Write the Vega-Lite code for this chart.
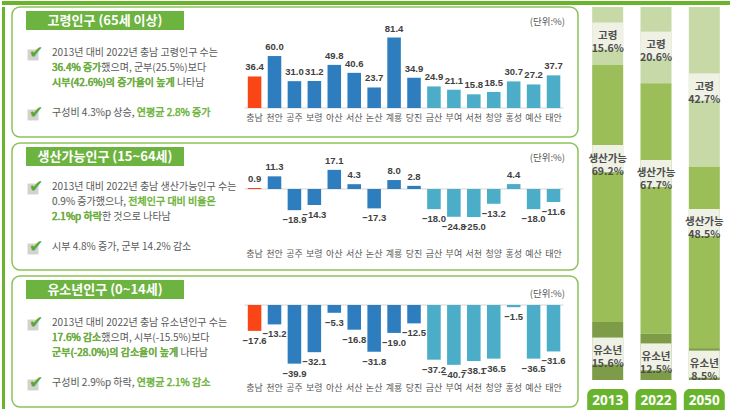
{
  "$schema": "https://vega.github.io/schema/vega-lite/v6.json",
  "padding": 0,
  "background": "#ffffff",
  "config": {"view": {"stroke": null}, "font": "Noto Sans CJK KR", "axis": {"labelFont": "Noto Sans CJK KR"}},
  "datasets": {
    "growth": [
      {"city": "충남", "level": "도", "old": 36.4, "work": 0.9, "young": -17.6},
      {"city": "천안", "level": "시", "old": 60.0, "work": 11.3, "young": -13.2},
      {"city": "공주", "level": "시", "old": 31.0, "work": -18.9, "young": -39.9},
      {"city": "보령", "level": "시", "old": 31.2, "work": -14.3, "young": -32.1},
      {"city": "아산", "level": "시", "old": 49.8, "work": 17.1, "young": -5.3},
      {"city": "서산", "level": "시", "old": 40.6, "work": 4.3, "young": -16.8},
      {"city": "논산", "level": "시", "old": 23.7, "work": -17.3, "young": -31.8},
      {"city": "계룡", "level": "시", "old": 81.4, "work": 8.0, "young": -19.0},
      {"city": "당진", "level": "시", "old": 34.9, "work": 2.8, "young": -12.5},
      {"city": "금산", "level": "군", "old": 24.9, "work": -18.0, "young": -37.2},
      {"city": "부여", "level": "군", "old": 21.1, "work": -24.8, "young": -40.7},
      {"city": "서천", "level": "군", "old": 15.8, "work": -25.0, "young": -38.1},
      {"city": "청양", "level": "군", "old": 18.5, "work": -13.2, "young": -36.5},
      {"city": "홍성", "level": "군", "old": 30.7, "work": 4.4, "young": -1.5},
      {"city": "예산", "level": "군", "old": 27.2, "work": -18.0, "young": -36.5},
      {"city": "태안", "level": "군", "old": 37.7, "work": -11.6, "young": -31.6}
    ],
    "p1text": [
      {"line": 1, "part": "full", "text": "2013년 대비 2022년 충남 고령인구 수는", "emph": false, "check": true},
      {"line": 2, "part": "full", "text": "36.4% 증가했으며, 군부(25.5%)보다", "emph": false},
      {"line": 2, "part": "pre", "text": "36.4% 증가", "emph": true},
      {"line": 3, "part": "full", "text": "시부(42.6%)의 증가율이 높게 나타남", "emph": false},
      {"line": 3, "part": "pre", "text": "시부(42.6%)의 증가율이 높게", "emph": true},
      {"line": 5, "part": "full", "text": "구성비 4.3%p 상승, 연평균 2.8% 증가", "emph": true, "check": true},
      {"line": 5, "part": "pre", "text": "구성비 4.3%p 상승,", "emph": false}
    ],
    "p2text": [
      {"line": 1, "part": "full", "text": "2013년 대비 2022년 충남 생산가능인구 수는", "emph": false, "check": true},
      {"line": 2, "part": "full", "text": "0.9% 증가했으나, 전체인구 대비 비율은", "emph": true},
      {"line": 2, "part": "pre", "text": "0.9% 증가했으나,", "emph": false},
      {"line": 3, "part": "full", "text": "2.1%p 하락한 것으로 나타남", "emph": false},
      {"line": 3, "part": "pre", "text": "2.1%p 하락", "emph": true},
      {"line": 5, "part": "full", "text": "시부 4.8% 증가, 군부 14.2% 감소", "emph": false, "check": true}
    ],
    "p3text": [
      {"line": 1, "part": "full", "text": "2013년 대비 2022년 충남 유소년인구 수는", "emph": false, "check": true},
      {"line": 2, "part": "full", "text": "17.6% 감소했으며, 시부(-15.5%)보다", "emph": false},
      {"line": 2, "part": "pre", "text": "17.6% 감소", "emph": true},
      {"line": 3, "part": "full", "text": "군부(-28.0%)의 감소율이 높게 나타남", "emph": false},
      {"line": 3, "part": "pre", "text": "군부(-28.0%)의 감소율이 높게", "emph": true},
      {"line": 5, "part": "full", "text": "구성비 2.9%p 하락, 연평균 2.1% 감소", "emph": true, "check": true},
      {"line": 5, "part": "pre", "text": "구성비 2.9%p 하락,", "emph": false}
    ],
    "share": [
      {"year": "2013", "group": "고령", "pct": 15.6},
      {"year": "2013", "group": "생산가능", "pct": 69.2},
      {"year": "2013", "group": "유소년", "pct": 15.6},
      {"year": "2022", "group": "고령", "pct": 20.6},
      {"year": "2022", "group": "생산가능", "pct": 67.7},
      {"year": "2022", "group": "유소년", "pct": 12.5},
      {"year": "2050", "group": "고령", "pct": 42.7},
      {"year": "2050", "group": "생산가능", "pct": 48.5},
      {"year": "2050", "group": "유소년", "pct": 8.5}
    ]
  },
  "spacing": 0,
  "resolve": {"scale": {"color": "independent"}},
  "vconcat": [
    {"width": 730, "height": 4, "view": {"fill": "#6ab42d", "stroke": null}, "data": {"values": [{}]}, "mark": {"type": "point", "opacity": 0}},
    {
      "spacing": 4,
      "resolve": {"scale": {"color": "independent"}},
      "hconcat": [
        {"width": 3, "height": 402, "view": {"fill": "#6ab42d", "stroke": null}, "data": {"values": [{}]}, "mark": {"type": "point", "opacity": 0}},
        {
          "spacing": 4,
          "vconcat": [
            {
              "width": 566, "height": 130,
              "view": {"stroke": "#8cc25a", "strokeWidth": 1.5, "cornerRadius": 8},
              "resolve": {"scale": {"x": "independent", "y": "independent"}},
              "layer": [
                {"data": {"values": [{"title": "고령인구 (65세 이상)"}]},
                 "layer": [
                   {"mark": {"type": "rect", "x": 14, "x2": 172, "y": 4, "y2": 23, "color": "#6db33f"}},
                   {"mark": {"type": "text", "x": 93, "y": 14, "align": "center", "baseline": "middle", "color": "#ffffff", "fontSize": 13, "fontWeight": "bold"}, "encoding": {"text": {"field": "title"}}}
                 ]},
                {"data": {"values": [{"unit": "(단위:%)"}]},
                 "mark": {"type": "text", "x": 553, "y": 15, "align": "right", "baseline": "middle", "color": "#595959", "fontSize": 9.5},
                 "encoding": {"text": {"field": "unit"}}},
                {"data": {"name": "p1text"},
                 "encoding": {"y": {"field": "line", "type": "quantitative", "axis": null, "scale": {"domain": [-2.0667, 6.6], "reverse": true, "nice": false, "zero": false}}},
                 "layer": [
                   {"transform": [{"filter": "datum.check"}], "mark": {"type": "point", "shape": "square", "filled": true, "x": 21, "yOffset": 2, "size": 120, "color": "#d2d2d2", "opacity": 1}},
                   {"transform": [{"filter": "datum.check"}], "mark": {"type": "text", "text": "✔", "x": 24, "font": "DejaVu Sans", "fontSize": 17, "color": "#5aa832", "baseline": "middle", "align": "center"}},
                   {"transform": [{"filter": "datum.part === 'full'"}], "mark": {"type": "text", "x": 40, "align": "left", "baseline": "middle", "fontSize": 10, "strokeWidth": 0.45}, "encoding": {"text": {"field": "text"}, "fill": {"condition": {"test": "datum.emph", "value": "#6cb33a"}, "value": "#595959"}, "stroke": {"condition": {"test": "datum.emph", "value": "#6cb33a"}, "value": "transparent"}}},
                   {"transform": [{"filter": "datum.part === 'pre' && !datum.emph"}], "mark": {"type": "text", "x": 40, "align": "left", "baseline": "middle", "fontSize": 10, "fill": "#595959", "stroke": "#ffffff", "strokeWidth": 1.4}, "encoding": {"text": {"field": "text"}}},
                   {"transform": [{"filter": "datum.part === 'pre'"}], "mark": {"type": "text", "x": 40, "align": "left", "baseline": "middle", "fontSize": 10, "strokeWidth": 0.45}, "encoding": {"text": {"field": "text"}, "fill": {"condition": {"test": "datum.emph", "value": "#6cb33a"}, "value": "#595959"}, "stroke": {"condition": {"test": "datum.emph", "value": "#6cb33a"}, "value": "transparent"}}}
                 ]},
                {"data": {"name": "growth"},
                 "layer": [
                   {"mark": {"type": "rule", "color": "#d4d4d4", "strokeWidth": 1, "xOffset": -3.2, "x2Offset": 3.2},
                    "encoding": {
                      "x": {"field": "city", "type": "nominal", "sort": null, "bandPosition": 0, "scale": {"range": [232.6, 551.5], "paddingInner": 0.32, "paddingOuter": 0.16}, "axis": {"orient": "bottom", "offset": -20, "domain": false, "ticks": false, "tickSize": 0, "labelPadding": 0, "labelBaseline": "middle", "labelFontSize": 9, "labelColor": "#595959", "labelAngle": 0, "title": null, "labelOverlap": false, "grid": false}},
                      "x2": {"field": "city", "bandPosition": 1},
                      "y": {"datum": 0, "type": "quantitative", "axis": null, "scale": {"domain": [-33.49, 116.63], "nice": false, "zero": false}}}},
                   {"mark": {"type": "bar"},
                    "encoding": {
                      "x": {"field": "city", "type": "nominal", "sort": null, "scale": {"range": [232.6, 551.5], "paddingInner": 0.32, "paddingOuter": 0.16}, "axis": {"orient": "bottom", "offset": -20, "domain": false, "ticks": false, "tickSize": 0, "labelPadding": 0, "labelBaseline": "middle", "labelFontSize": 9, "labelColor": "#595959", "labelAngle": 0, "title": null, "labelOverlap": false, "grid": false}},
                      "y": {"field": "old", "type": "quantitative", "axis": null, "scale": {"domain": [-33.49, 116.63], "nice": false, "zero": false}},
                      "color": {"field": "level", "type": "nominal", "legend": null, "scale": {"domain": ["도", "시", "군"], "range": ["#fa4616", "#2e7ebf", "#4badc7"]}}}},
                   {"transform": [{"filter": "datum.old >= 0"}],
                    "mark": {"type": "text", "baseline": "bottom", "dy": -4, "fontSize": 9.5, "fontWeight": "bold", "color": "#404040", "font": "Liberation Sans"},
                    "encoding": {
                      "x": {"field": "city", "type": "nominal", "sort": null, "scale": {"range": [232.6, 551.5], "paddingInner": 0.32, "paddingOuter": 0.16}, "axis": {"orient": "bottom", "offset": -20, "domain": false, "ticks": false, "tickSize": 0, "labelPadding": 0, "labelBaseline": "middle", "labelFontSize": 9, "labelColor": "#595959", "labelAngle": 0, "title": null, "labelOverlap": false, "grid": false}},
                      "y": {"field": "old", "type": "quantitative", "axis": null, "scale": {"domain": [-33.49, 116.63], "nice": false, "zero": false}},
                      "text": {"field": "old", "type": "quantitative", "format": ".1f"}}}
                 ]}
              ]
            },
            {
              "width": 566, "height": 127,
              "view": {"stroke": "#8cc25a", "strokeWidth": 1.5, "cornerRadius": 8},
              "resolve": {"scale": {"x": "independent", "y": "independent"}},
              "layer": [
                {"data": {"values": [{"title": "생산가능인구 (15~64세)"}]},
                 "layer": [
                   {"mark": {"type": "rect", "x": 14, "x2": 172, "y": 4, "y2": 23, "color": "#6db33f"}},
                   {"mark": {"type": "text", "x": 93, "y": 14, "align": "center", "baseline": "middle", "color": "#ffffff", "fontSize": 13, "fontWeight": "bold"}, "encoding": {"text": {"field": "title"}}}
                 ]},
                {"data": {"values": [{"unit": "(단위:%)"}]},
                 "mark": {"type": "text", "x": 553, "y": 15, "align": "right", "baseline": "middle", "color": "#595959", "fontSize": 9.5},
                 "encoding": {"text": {"field": "unit"}}},
                {"data": {"name": "p2text"},
                 "encoding": {"y": {"field": "line", "type": "quantitative", "axis": null, "scale": {"domain": [-1.9333, 6.5333], "reverse": true, "nice": false, "zero": false}}},
                 "layer": [
                   {"transform": [{"filter": "datum.check"}], "mark": {"type": "point", "shape": "square", "filled": true, "x": 21, "yOffset": 2, "size": 120, "color": "#d2d2d2", "opacity": 1}},
                   {"transform": [{"filter": "datum.check"}], "mark": {"type": "text", "text": "✔", "x": 24, "font": "DejaVu Sans", "fontSize": 17, "color": "#5aa832", "baseline": "middle", "align": "center"}},
                   {"transform": [{"filter": "datum.part === 'full'"}], "mark": {"type": "text", "x": 40, "align": "left", "baseline": "middle", "fontSize": 10, "strokeWidth": 0.45}, "encoding": {"text": {"field": "text"}, "fill": {"condition": {"test": "datum.emph", "value": "#6cb33a"}, "value": "#595959"}, "stroke": {"condition": {"test": "datum.emph", "value": "#6cb33a"}, "value": "transparent"}}},
                   {"transform": [{"filter": "datum.part === 'pre' && !datum.emph"}], "mark": {"type": "text", "x": 40, "align": "left", "baseline": "middle", "fontSize": 10, "fill": "#595959", "stroke": "#ffffff", "strokeWidth": 1.4}, "encoding": {"text": {"field": "text"}}},
                   {"transform": [{"filter": "datum.part === 'pre'"}], "mark": {"type": "text", "x": 40, "align": "left", "baseline": "middle", "fontSize": 10, "strokeWidth": 0.45}, "encoding": {"text": {"field": "text"}, "fill": {"condition": {"test": "datum.emph", "value": "#6cb33a"}, "value": "#595959"}, "stroke": {"condition": {"test": "datum.emph", "value": "#6cb33a"}, "value": "transparent"}}}
                 ]},
                {"data": {"name": "growth"},
                 "layer": [
                   {"mark": {"type": "rule", "color": "#d4d4d4", "strokeWidth": 1, "xOffset": -3.2, "x2Offset": 3.2},
                    "encoding": {
                      "x": {"field": "city", "type": "nominal", "sort": null, "bandPosition": 0, "scale": {"range": [232.6, 551.5], "paddingInner": 0.32, "paddingOuter": 0.16}, "axis": {"orient": "bottom", "offset": -17, "domain": false, "ticks": false, "tickSize": 0, "labelPadding": 0, "labelBaseline": "middle", "labelFontSize": 9, "labelColor": "#595959", "labelAngle": 0, "title": null, "labelOverlap": false, "grid": false}},
                      "x2": {"field": "city", "bandPosition": 1},
                      "y": {"datum": 0, "type": "quantitative", "axis": null, "scale": {"domain": [-72.32, 41.07], "nice": false, "zero": false}}}},
                   {"mark": {"type": "bar"},
                    "encoding": {
                      "x": {"field": "city", "type": "nominal", "sort": null, "scale": {"range": [232.6, 551.5], "paddingInner": 0.32, "paddingOuter": 0.16}, "axis": {"orient": "bottom", "offset": -17, "domain": false, "ticks": false, "tickSize": 0, "labelPadding": 0, "labelBaseline": "middle", "labelFontSize": 9, "labelColor": "#595959", "labelAngle": 0, "title": null, "labelOverlap": false, "grid": false}},
                      "y": {"field": "work", "type": "quantitative", "axis": null, "scale": {"domain": [-72.32, 41.07], "nice": false, "zero": false}},
                      "color": {"field": "level", "type": "nominal", "legend": null, "scale": {"domain": ["도", "시", "군"], "range": ["#fa4616", "#2e7ebf", "#4badc7"]}}}},
                   {"transform": [{"filter": "datum.work >= 0"}],
                    "mark": {"type": "text", "baseline": "bottom", "dy": -4, "fontSize": 9.5, "fontWeight": "bold", "color": "#404040", "font": "Liberation Sans"},
                    "encoding": {
                      "x": {"field": "city", "type": "nominal", "sort": null, "scale": {"range": [232.6, 551.5], "paddingInner": 0.32, "paddingOuter": 0.16}, "axis": {"orient": "bottom", "offset": -17, "domain": false, "ticks": false, "tickSize": 0, "labelPadding": 0, "labelBaseline": "middle", "labelFontSize": 9, "labelColor": "#595959", "labelAngle": 0, "title": null, "labelOverlap": false, "grid": false}},
                      "y": {"field": "work", "type": "quantitative", "axis": null, "scale": {"domain": [-72.32, 41.07], "nice": false, "zero": false}},
                      "text": {"field": "work", "type": "quantitative", "format": ".1f"}}},
                   {"transform": [{"filter": "datum.work < 0"}],
                    "mark": {"type": "text", "baseline": "top", "dy": 5, "fontSize": 9.5, "fontWeight": "bold", "color": "#404040", "font": "Liberation Sans"},
                    "encoding": {
                      "x": {"field": "city", "type": "nominal", "sort": null, "scale": {"range": [232.6, 551.5], "paddingInner": 0.32, "paddingOuter": 0.16}, "axis": {"orient": "bottom", "offset": -17, "domain": false, "ticks": false, "tickSize": 0, "labelPadding": 0, "labelBaseline": "middle", "labelFontSize": 9, "labelColor": "#595959", "labelAngle": 0, "title": null, "labelOverlap": false, "grid": false}},
                      "y": {"field": "work", "type": "quantitative", "axis": null, "scale": {"domain": [-72.32, 41.07], "nice": false, "zero": false}},
                      "text": {"field": "work", "type": "quantitative", "format": ".1f"}}}
                 ]}
              ]
            },
            {
              "width": 566, "height": 131,
              "view": {"stroke": "#8cc25a", "strokeWidth": 1.5, "cornerRadius": 8},
              "resolve": {"scale": {"x": "independent", "y": "independent"}},
              "layer": [
                {"data": {"values": [{"title": "유소년인구 (0~14세)"}]},
                 "layer": [
                   {"mark": {"type": "rect", "x": 14, "x2": 172, "y": 4, "y2": 23, "color": "#6db33f"}},
                   {"mark": {"type": "text", "x": 93, "y": 14, "align": "center", "baseline": "middle", "color": "#ffffff", "fontSize": 13, "fontWeight": "bold"}, "encoding": {"text": {"field": "title"}}}
                 ]},
                {"data": {"values": [{"unit": "(단위:%)"}]},
                 "mark": {"type": "text", "x": 553, "y": 18, "align": "right", "baseline": "middle", "color": "#595959", "fontSize": 9.5},
                 "encoding": {"text": {"field": "unit"}}},
                {"data": {"name": "p3text"},
                 "encoding": {"y": {"field": "line", "type": "quantitative", "axis": null, "scale": {"domain": [-2.1333, 6.6], "reverse": true, "nice": false, "zero": false}}},
                 "layer": [
                   {"transform": [{"filter": "datum.check"}], "mark": {"type": "point", "shape": "square", "filled": true, "x": 21, "yOffset": 2, "size": 120, "color": "#d2d2d2", "opacity": 1}},
                   {"transform": [{"filter": "datum.check"}], "mark": {"type": "text", "text": "✔", "x": 24, "font": "DejaVu Sans", "fontSize": 17, "color": "#5aa832", "baseline": "middle", "align": "center"}},
                   {"transform": [{"filter": "datum.part === 'full'"}], "mark": {"type": "text", "x": 40, "align": "left", "baseline": "middle", "fontSize": 10, "strokeWidth": 0.45}, "encoding": {"text": {"field": "text"}, "fill": {"condition": {"test": "datum.emph", "value": "#6cb33a"}, "value": "#595959"}, "stroke": {"condition": {"test": "datum.emph", "value": "#6cb33a"}, "value": "transparent"}}},
                   {"transform": [{"filter": "datum.part === 'pre' && !datum.emph"}], "mark": {"type": "text", "x": 40, "align": "left", "baseline": "middle", "fontSize": 10, "fill": "#595959", "stroke": "#ffffff", "strokeWidth": 1.4}, "encoding": {"text": {"field": "text"}}},
                   {"transform": [{"filter": "datum.part === 'pre'"}], "mark": {"type": "text", "x": 40, "align": "left", "baseline": "middle", "fontSize": 10, "strokeWidth": 0.45}, "encoding": {"text": {"field": "text"}, "fill": {"condition": {"test": "datum.emph", "value": "#6cb33a"}, "value": "#595959"}, "stroke": {"condition": {"test": "datum.emph", "value": "#6cb33a"}, "value": "transparent"}}}
                 ]},
                {"data": {"name": "growth"},
                 "layer": [
                   {"mark": {"type": "rule", "color": "#d4d4d4", "strokeWidth": 1, "xOffset": -3.2, "x2Offset": 3.2},
                    "encoding": {
                      "x": {"field": "city", "type": "nominal", "sort": null, "bandPosition": 0, "scale": {"range": [232.6, 551.5], "paddingInner": 0.32, "paddingOuter": 0.16}, "axis": {"orient": "bottom", "offset": -20, "domain": false, "ticks": false, "tickSize": 0, "labelPadding": 0, "labelBaseline": "middle", "labelFontSize": 9, "labelColor": "#595959", "labelAngle": 0, "title": null, "labelOverlap": false, "grid": false}},
                      "x2": {"field": "city", "bandPosition": 1},
                      "y": {"datum": 0, "type": "quantitative", "axis": null, "scale": {"domain": [-69.39, 19.73], "nice": false, "zero": false}}}},
                   {"mark": {"type": "bar"},
                    "encoding": {
                      "x": {"field": "city", "type": "nominal", "sort": null, "scale": {"range": [232.6, 551.5], "paddingInner": 0.32, "paddingOuter": 0.16}, "axis": {"orient": "bottom", "offset": -20, "domain": false, "ticks": false, "tickSize": 0, "labelPadding": 0, "labelBaseline": "middle", "labelFontSize": 9, "labelColor": "#595959", "labelAngle": 0, "title": null, "labelOverlap": false, "grid": false}},
                      "y": {"field": "young", "type": "quantitative", "axis": null, "scale": {"domain": [-69.39, 19.73], "nice": false, "zero": false}},
                      "color": {"field": "level", "type": "nominal", "legend": null, "scale": {"domain": ["도", "시", "군"], "range": ["#fa4616", "#2e7ebf", "#4badc7"]}}}},
                   {"transform": [{"filter": "datum.young < 0"}],
                    "mark": {"type": "text", "baseline": "top", "dy": 5, "fontSize": 9.5, "fontWeight": "bold", "color": "#404040", "font": "Liberation Sans"},
                    "encoding": {
                      "x": {"field": "city", "type": "nominal", "sort": null, "scale": {"range": [232.6, 551.5], "paddingInner": 0.32, "paddingOuter": 0.16}, "axis": {"orient": "bottom", "offset": -20, "domain": false, "ticks": false, "tickSize": 0, "labelPadding": 0, "labelBaseline": "middle", "labelFontSize": 9, "labelColor": "#595959", "labelAngle": 0, "title": null, "labelOverlap": false, "grid": false}},
                      "y": {"field": "young", "type": "quantitative", "axis": null, "scale": {"domain": [-69.39, 19.73], "nice": false, "zero": false}},
                      "text": {"field": "young", "type": "quantitative", "format": ".1f"}}}
                 ]}
              ]
            }
          ]
        },
        {
          "spacing": 6,
          "vconcat": [
            {
              "width": 146, "height": 373,
              "data": {"name": "share"},
              "transform": [
                {"stack": "pct", "groupby": ["year"], "sort": [{"field": "group", "order": "descending"}], "offset": "normalize", "as": ["s0", "s1"]},
                {"calculate": "(datum.s0 + datum.s1) / 2", "as": "mid"},
                {"calculate": "datum.group + '\\n' + format(datum.pct, '.1f') + '%'", "as": "label"}
              ],
              "encoding": {"x": {"field": "year", "type": "nominal", "axis": null, "scale": {"paddingInner": 0.358, "paddingOuter": 0.19}}},
              "layer": [
                {"mark": {"type": "bar"},
                 "encoding": {
                   "y": {"field": "s0", "type": "quantitative", "axis": null, "scale": {"domain": [0, 1], "nice": false}},
                   "y2": {"field": "s1"},
                   "color": {"field": "group", "type": "nominal", "legend": null, "scale": {"domain": ["고령", "생산가능", "유소년"], "range": ["#c6d9a6", "#9bbe59", "#7e9c47"]}}}},
                {"transform": [{"filter": "datum.group !== '생산가능'"}],
                 "mark": {"type": "point", "shape": "M-1,-0.87H1V0.87H-1Z", "filled": true, "size": 961, "color": "#eef1e4", "opacity": 1},
                 "encoding": {"y": {"field": "mid", "type": "quantitative", "axis": null, "scale": {"domain": [0, 1], "nice": false}}}},
                {"transform": [{"filter": "datum.group !== '생산가능'"}],
                 "mark": {"type": "text", "fontSize": 10.5, "fontWeight": "bold", "color": "#4d4d4d", "lineHeight": 13, "baseline": "middle", "lineBreak": "\n"},
                 "encoding": {"y": {"field": "mid", "type": "quantitative", "axis": null, "scale": {"domain": [0, 1], "nice": false}}, "text": {"field": "label"}}},
                {"transform": [{"filter": "datum.group === '생산가능'"}],
                 "mark": {"type": "point", "shape": "M-1,-0.87H1V0.87H-1Z", "filled": true, "size": 961, "color": "#eef1e4", "opacity": 1, "yOffset": -35},
                 "encoding": {"y": {"field": "mid", "type": "quantitative", "axis": null, "scale": {"domain": [0, 1], "nice": false}}}},
                {"transform": [{"filter": "datum.group === '생산가능'"}],
                 "mark": {"type": "text", "fontSize": 10.5, "fontWeight": "bold", "color": "#4d4d4d", "lineHeight": 13, "baseline": "middle", "lineBreak": "\n", "yOffset": -35},
                 "encoding": {"y": {"field": "mid", "type": "quantitative", "axis": null, "scale": {"domain": [0, 1], "nice": false}}, "text": {"field": "label"}}}
              ]
            },
            {
              "width": 146, "height": 23,
              "data": {"values": [{"year": "2013"}, {"year": "2022"}, {"year": "2050"}]},
              "encoding": {"x": {"field": "year", "type": "nominal", "axis": null, "scale": {"paddingInner": 0.151, "paddingOuter": 0.087}}},
              "layer": [
                {"mark": {"type": "bar", "color": "#6ab42d", "cornerRadiusTopLeft": 6, "cornerRadiusTopRight": 6}},
                {"mark": {"type": "text", "color": "#ffffff", "fontSize": 13.5, "fontWeight": "bold", "font": "Noto Sans", "baseline": "middle"}, "encoding": {"text": {"field": "year"}}}
              ]
            }
          ]
        },
        {"width": 3, "height": 402, "view": {"fill": "#6ab42d", "stroke": null}, "data": {"values": [{}]}, "mark": {"type": "point", "opacity": 0}}
      ]
    },
    {"width": 730, "height": 4, "view": {"fill": "#6ab42d", "stroke": null}, "data": {"values": [{}]}, "mark": {"type": "point", "opacity": 0}}
  ]
}
